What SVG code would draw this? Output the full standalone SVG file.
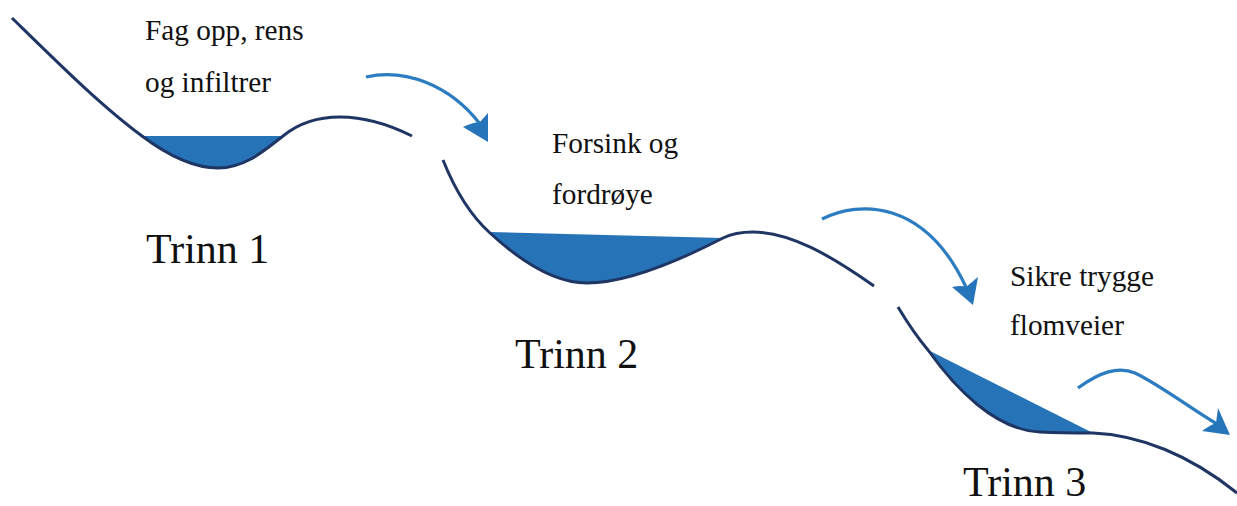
<svg xmlns="http://www.w3.org/2000/svg" width="1237" height="506" viewBox="0 0 1237 506">
  <style>
    .ground { fill: none; stroke: #1f3563; stroke-width: 3; stroke-linecap: butt; }
    .water { fill: #2673b8; stroke: none; }
    .flow { fill: none; stroke: #2b7cc1; stroke-width: 3.2; }
    .head { fill: #2674b9; }
    .note { font-family: "Liberation Serif", "Times New Roman", serif; font-size: 29.3px; fill: #111; }
    .step { font-family: "Liberation Serif", "Times New Roman", serif; font-size: 42px; fill: #111; }
  </style>
  <rect width="1237" height="506" fill="#ffffff"/>

  <!-- Step 1: basin -->
  <g id="trinn1">
    <path class="water" d="M142,136 C170,157 195,168 218,168 C245,168 265,150 283,136 Z"/>
    <path class="ground" d="M12,18 C55,60 100,105 142,136 C170,157 195,168 218,168 C245,168 265,150 283,136 C300,122 318,117 340,117 C365,117 390,125 412,136"/>
    <text class="note" x="145" y="40">Fag opp, rens</text>
    <text class="note" x="145" y="92">og infiltrer</text>
    <text class="step" x="146" y="263">Trinn 1</text>
  </g>

  <!-- Step 2: basin -->
  <g id="trinn2">
    <path class="water" d="M490,232 L723,238 C690,255 630,283 587,283 C550,283 515,256 490,233 Z"/>
    <path class="ground" d="M443,160 C455,190 470,215 490,233 C515,256 550,283 587,283 C630,283 690,255 723,238 C733,233 743,232 753,232 C790,232 830,255 874,286"/>
    <text class="note" x="552" y="153">Forsink og</text>
    <text class="note" x="552" y="204">fordrøye</text>
    <text class="step" x="515" y="368">Trinn 2</text>
  </g>

  <!-- Step 3: slope -->
  <g id="trinn3">
    <path class="water" d="M928,350 L1093,433 C1075,433 1060,433 1040,432 C995,430 955,388 928,350 Z"/>
    <path class="ground" d="M898,307 C907,322 917,337 928,350 C955,388 995,430 1040,432 C1060,433 1075,433 1093,433 C1140,435 1190,455 1237,493"/>
    <text class="note" x="1010" y="286">Sikre trygge</text>
    <text class="note" x="1010" y="335">flomveier</text>
    <text class="step" x="963" y="496">Trinn 3</text>
  </g>

  <!-- Flow arrows between steps -->
  <g id="connectors">
    <path class="flow" d="M366,77 C405,68 450,85 480,124"/>
    <path class="head" d="M488,142 L463,127 Q476,121 479,123 L488,113 Z"/>
    <path class="flow" d="M822,219 C860,200 925,200 966,287"/>
    <path class="head" d="M973,305 L952,287 Q962,285 966,287 L978,277 Z"/>
    <path class="flow" d="M1078,388 C1100,372 1118,366 1135,373 C1160,385 1190,408 1217,424"/>
    <path class="head" d="M1230,435 L1202,431 Q1212,424 1216,423 L1218,408 Z"/>
  </g>
</svg>
